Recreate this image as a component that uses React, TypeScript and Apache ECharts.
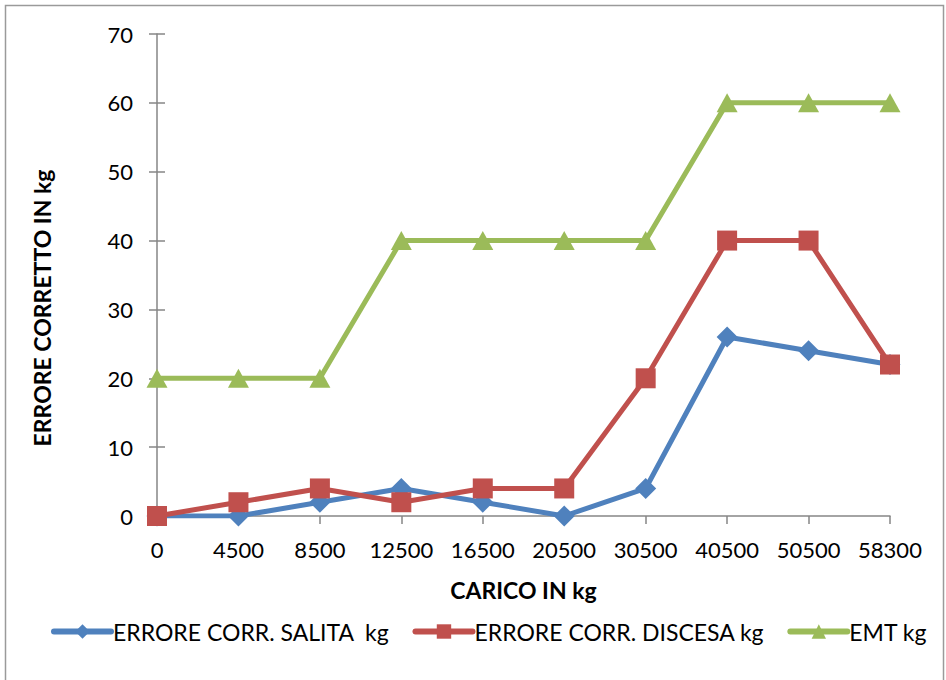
import React, { useEffect, useRef } from "react";
import * as echarts from "echarts";

const categories = ["0", "4500", "8500", "12500", "16500", "20500", "30500", "40500", "50500", "58300"];
const salita = [0, 0, 2, 4, 2, 0, 4, 26, 24, 22];
const discesa = [0, 2, 4, 2, 4, 4, 20, 40, 40, 22];
const emt = [20, 20, 20, 40, 40, 40, 40, 60, 60, 60];
const seriesNames = ["ERRORE CORR. SALITA  kg", "ERRORE CORR. DISCESA kg", "EMT kg"];
const xTitle = "CARICO IN kg";
const yTitle = "ERRORE CORRETTO IN kg";

const FONT = "Lato, 'Open Sans', sans-serif";
const AXIS_COLOR = "#868686";

export default function App() {
  const ref = useRef<HTMLDivElement>(null);
  useEffect(() => {
    if (!ref.current) return;
    const chart = echarts.init(ref.current, null, { renderer: "svg" });
    const yCommon = {
      type: "value",
      min: 0,
      max: 70,
      interval: 10,
      splitLine: { show: false },
    };
    chart.setOption({
      animation: false,
      backgroundColor: "#ffffff",
      textStyle: { fontFamily: FONT },
      graphic: [
        {
          type: "rect",
          shape: { x: 5.5, y: 5.5, width: 938, height: 690 },
          style: { fill: "none", stroke: "#9a9a9a", lineWidth: 1.5 },
          silent: true,
        },
        {
          type: "text",
          x: 42,
          y: 308,
          rotation: Math.PI / 2,
          style: {
            text: yTitle,
            fill: "#000",
            fontFamily: FONT,
            fontSize: 23,
            fontWeight: "bold",
            align: "center",
            verticalAlign: "middle",
          },
          silent: true,
        },
      ],
      grid: { left: 157, right: 56, top: 34, bottom: 164, containLabel: false },
      legend: {
        bottom: 32,
        left: 46,
        itemWidth: 57,
        itemHeight: 18,
        itemGap: 23,
        lineStyle: { width: 6, cap: "round" },
        textStyle: { fontFamily: FONT, fontSize: 23, color: "#000", padding: [0, 0, 0, -3] },
        data: seriesNames,
      },
      xAxis: {
        type: "category",
        data: categories,
        boundaryGap: false,
        name: xTitle,
        nameLocation: "middle",
        nameGap: 62,
        nameTextStyle: { fontFamily: FONT, fontSize: 23, fontWeight: "bold", color: "#000" },
        axisLine: { lineStyle: { color: AXIS_COLOR, width: 1.5 } },
        axisTick: { show: true, alignWithLabel: true, length: 8, lineStyle: { color: AXIS_COLOR, width: 1.5 } },
        axisLabel: { fontFamily: FONT, fontSize: 22, color: "#000", margin: 22, interval: 0 },
        splitLine: { show: false },
      },
      yAxis: [
        {
          ...yCommon,
          axisLine: { show: true, lineStyle: { color: AXIS_COLOR, width: 1.5 } },
          axisTick: { show: true, length: 8, lineStyle: { color: AXIS_COLOR, width: 1.5 } },
          axisLabel: { fontFamily: FONT, fontSize: 22, color: "#000", margin: 24 },
        },
        {
          ...yCommon,
          position: "left",
          axisLine: { show: false },
          axisTick: { show: true, inside: true, length: 8, lineStyle: { color: AXIS_COLOR, width: 1.5 } },
          axisLabel: { show: false },
        },
      ],
      series: [
        {
          name: seriesNames[0],
          type: "line",
          data: salita,
          symbol: "diamond",
          symbolSize: 21,
          lineStyle: { color: "#4F81BD", width: 5 },
          itemStyle: { color: "#4F81BD" },
          z: 3,
        },
        {
          name: seriesNames[1],
          type: "line",
          data: discesa,
          symbol: "rect",
          symbolSize: 20,
          lineStyle: { color: "#C0504D", width: 5 },
          itemStyle: { color: "#C0504D" },
          z: 4,
        },
        {
          name: seriesNames[2],
          type: "line",
          data: emt,
          symbol: "triangle",
          symbolSize: [21, 19],
          lineStyle: { color: "#9BBB59", width: 5 },
          itemStyle: { color: "#9BBB59" },
          z: 5,
        },
      ],
    });
    return () => chart.dispose();
  }, []);
  return (
    <div
      ref={ref}
      style={{ position: "fixed", left: 0, top: 0, width: 946, height: 680 }}
    />
  );
}
